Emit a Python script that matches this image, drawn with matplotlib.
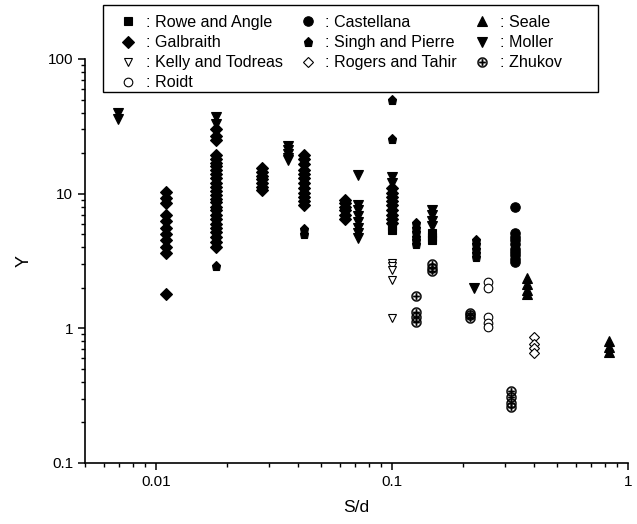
import matplotlib
matplotlib.use("Agg")
import matplotlib.pyplot as plt
from matplotlib.patches import Rectangle
from matplotlib.ticker import LogLocator, FixedLocator, NullFormatter

plt.rcParams['font.family'] = ['Liberation Sans', 'DejaVu Sans']

# ---- data ----
rowe_x = [0.10, 0.10, 0.148, 0.148, 0.148]
rowe_y = [5.8, 5.4, 5.1, 4.8, 4.5]

castellana_x = [0.332] * 10
castellana_y = [7.95, 5.1, 4.8, 4.5, 4.2, 3.9, 3.7, 3.5, 3.3, 3.1]

seale_x = [0.373, 0.373, 0.373, 0.373, 0.83, 0.83, 0.83]
seale_y = [2.35, 2.12, 1.92, 1.79, 0.80, 0.73, 0.67]

galbraith_x = ([0.011] * 11 + [0.018] * 26 + [0.028] * 7 + [0.0424] * 12
               + [0.063] * 6 + [0.10] * 9)
galbraith_y = ([10.3, 9.3, 8.5, 7.0, 6.3, 5.6, 5.0, 4.5, 4.0, 3.6, 1.8]
               + [30, 27, 25, 19.5, 18, 17, 16, 15, 14, 13, 12, 11.2, 10.5, 9.8,
                  9.2, 8.6, 8.0, 7.5, 7.0, 6.5, 6.0, 5.6, 5.2, 4.8, 4.4, 4.0]
               + [15.5, 14.5, 13.5, 12.8, 12.0, 11.3, 10.7]
               + [19.4, 18, 16.5, 15, 14, 13, 12, 11, 10.2, 9.5, 8.8, 8.3]
               + [9.0, 8.5, 8.0, 7.5, 7.0, 6.5]
               + [11.0, 10.2, 9.5, 8.8, 8.2, 7.6, 7.0, 6.5, 6.1])

singh_x = ([0.018, 0.0424, 0.0424, 0.10, 0.10] + [0.1264] * 6 + [0.227] * 5)
singh_y = ([2.9, 5.5, 5.0, 50, 25.4]
           + [6.1, 5.6, 5.2, 4.8, 4.5, 4.2]
           + [4.5, 4.2, 3.9, 3.6, 3.4])

moller_x = ([0.0069, 0.0069, 0.018, 0.018] + [0.0362] * 5 + [0.0718] * 8
            + [0.10, 0.10] + [0.148] * 4 + [0.222])
moller_y = ([40, 36, 37, 33] + [22.5, 21, 19.7, 18.4, 17.8]
            + [13.7, 8.2, 7.5, 6.8, 6.2, 5.6, 5.1, 4.7]
            + [13.3, 12.0] + [7.5, 6.9, 6.3, 5.8] + [1.98])

kelly_x = [0.10] * 5
kelly_y = [3.05, 2.9, 2.7, 2.3, 1.2]

rogers_x = [0.40] * 4
rogers_y = [0.86, 0.77, 0.71, 0.66]

zhukov_x = ([0.1264] * 4 + [0.148] * 3 + [0.214] * 3 + [0.319] * 4)
zhukov_y = ([1.75, 1.33, 1.22, 1.12] + [3.0, 2.8, 2.65]
            + [1.3, 1.25, 1.2] + [0.34, 0.31, 0.28, 0.26])

roidt_x = [0.255] * 5
roidt_y = [2.2, 2.0, 1.22, 1.1, 1.03]

xlim = (0.005, 1)
ylim = (0.1, 100)
x_ticks = [0.01, 0.1, 1]
x_tick_labels = ['0.01', '0.1', '1']
y_ticks = [0.1, 1, 10, 100]
y_tick_labels = ['0.1', '1', '10', '100']

# ---- figure ----
W, H = 637, 524
fig = plt.figure(figsize=(6.37, 5.24), dpi=100)
ax = fig.add_axes([85 / W, 1 - 463 / H, (628 - 85) / W, (463 - 59) / H])

ms_f = 6.8
ms_o = 6.2
series = [
    (rowe_x, rowe_y, 's', 'k', ': Rowe and Angle', ms_f - 0.6),
    (galbraith_x, galbraith_y, 'D', 'k', ': Galbraith', ms_f - 0.6),
    (kelly_x, kelly_y, 'v', 'w', ': Kelly and Todreas', ms_o),
    (roidt_x, roidt_y, 'o', 'w', ': Roidt', ms_o),
    (castellana_x, castellana_y, 'o', 'k', ': Castellana', ms_f),
    (singh_x, singh_y, 'p', 'k', ': Singh and Pierre', ms_f),
    (rogers_x, rogers_y, 'D', 'w', ': Rogers and Tahir', ms_o - 1),
    (seale_x, seale_y, '^', 'k', ': Seale', ms_f),
    (moller_x, moller_y, 'v', 'k', ': Moller', ms_f),
    (zhukov_x, zhukov_y, '$\\oplus$', 'k', ': Zhukov', ms_o + 1),
]

handles = []
for xs, ys, m, fc, lab, ms in series:
    if m.startswith('$'):
        h, = ax.plot(xs, ys, linestyle='none', marker=m, color='k',
                     markersize=ms, markeredgewidth=0.3, label=lab)
    else:
        h, = ax.plot(xs, ys, linestyle='none', marker=m, markerfacecolor=fc,
                     markeredgecolor='k', markeredgewidth=0.8, markersize=ms, label=lab)
    handles.append(h)

ax.set_xscale('log')
ax.set_yscale('log')
ax.set_xlim(*xlim)
ax.set_ylim(*ylim)
ax.xaxis.set_major_locator(FixedLocator(x_ticks))
ax.set_xticklabels(x_tick_labels)
ax.yaxis.set_major_locator(FixedLocator(y_ticks))
ax.set_yticklabels(y_tick_labels)
ax.xaxis.set_minor_locator(LogLocator(base=10, subs=range(2, 10)))
ax.yaxis.set_minor_locator(LogLocator(base=10, subs=range(2, 10)))
ax.xaxis.set_minor_formatter(NullFormatter())
ax.yaxis.set_minor_formatter(NullFormatter())

for s in ['top', 'right']:
    ax.spines[s].set_visible(False)
for s in ['left', 'bottom']:
    ax.spines[s].set_linewidth(1.2)

ax.tick_params(which='major', direction='out', length=5, width=1.1, labelsize=11, colors='k')
ax.tick_params(which='minor', direction='out', length=3, width=1.0)

ax.set_xlabel('S/d', fontsize=12.5, labelpad=8)
ax.set_ylabel('Y', fontsize=13, labelpad=11)

# legend box
box = Rectangle((103 / W, 1 - 92 / H), (598 - 103) / W, (92 - 5) / H,
                transform=fig.transFigure, facecolor='white', edgecolor='k',
                linewidth=1.0, zorder=4)
fig.patches.append(box)

leg = fig.legend(handles=handles, loc='upper left',
                 bbox_to_anchor=(120 / W, 1 - 15 / H),
                 bbox_transform=fig.transFigure, ncol=3, frameon=False,
                 fontsize=11.6, handlelength=1.0, handletextpad=0.6,
                 columnspacing=1.05, labelspacing=0.32, borderpad=0,
                 borderaxespad=0)
leg.set_zorder(5)

fig.savefig('out.png', dpi=100)
